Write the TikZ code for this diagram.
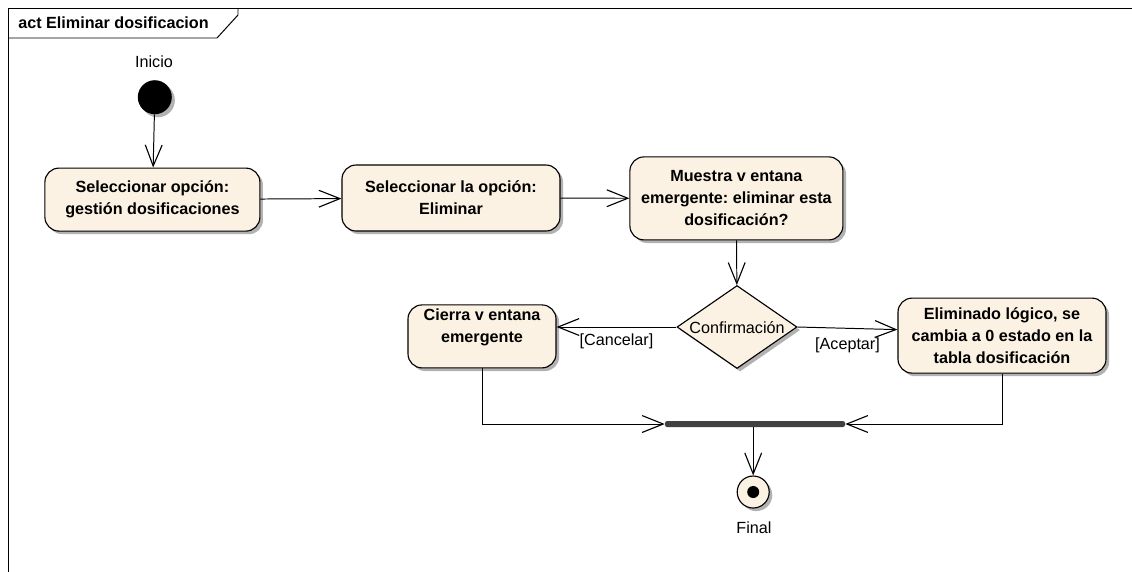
\documentclass[tikz,border=0pt]{standalone}
\usepackage{fontspec}
\setmainfont{Liberation Sans}
\usepackage{xcolor}
\usepackage{tikz}
\usetikzlibrary{positioning, arrows.meta, shadows, shapes.geometric, calc}

\definecolor{actfill}{RGB}{251,242,227}
\definecolor{barfill}{RGB}{64,64,64}

\frenchspacing

\begin{document}
\begin{tikzpicture}[
  font=\fontsize{11.5}{15.6}\selectfont,
  shade/.style={drop shadow={shadow xshift=2.2pt, shadow yshift=-2.2pt, fill=black!30, opacity=1}},
  action/.style={draw, line width=0.8pt, fill=actfill, rounded corners=10pt, align=center, font=\fontsize{11.5}{15.6}\selectfont\bfseries, inner sep=2pt, shade},
  decision/.style={draw, line width=0.8pt, fill=actfill, diamond, aspect=1.45, inner sep=0pt, shade},
  flow/.style={line width=0.7pt, -{Straight Barb[length=15pt, width=12pt, line width=0.8pt]}}
]
\useasboundingbox (0,0) rectangle (28.3,-14.275);

% frame with the diagram tab
\draw [line width=0.7pt] (0.2,-14.3) |- (28.4,-0.2);
\draw [line width=0.7pt] (0.2,-0.95) -- (5.425,-0.95) -- (5.95,-0.375) -- (5.95,-0.2);
\node [anchor=west, inner sep=0pt, font=\fontsize{11.5}{15.6}\selectfont\bfseries] (title) at (0.45,-0.575) {act Eliminar dosificacion};

% start
\node [circle, fill=black, minimum size=0.85cm, inner sep=0pt, shade] (init) at (3.87,-2.43) {};
\node (inicio) at (3.85,-1.55) {Inicio};

% actions
\node [action, minimum width=5.375cm, minimum height=1.575cm] (opcion) at (3.81,-4.99) {Seleccionar opción:\\gestión dosificaciones};
\node [action, minimum width=5.45cm, minimum height=1.65cm] (eliminar) at (11.275,-4.95) {Seleccionar la opción:\\Eliminar};
\node [action, minimum width=5.325cm, minimum height=2.075cm] (ventana) at (18.41,-4.96) {Muestra v entana\\emergente: eliminar esta\\dosificación?};

% decision
\node [decision, minimum width=3cm, minimum height=2.075cm] (confirm) at (18.425,-8.175) {};
\node (conftext) at (18.425,-8.2) {Confirmación};

\node [action, minimum width=3.7cm, minimum height=1.575cm] (cierra) at (12.05,-8.41) {Cierra v entana\\emergente\\\mbox{}};
\node [action, minimum width=5.2cm, minimum height=1.875cm] (logico) at (25.05,-8.39) {Eliminado lógico, se\\cambia a 0 estado en la\\tabla dosificación};

% join bar and end
\node [rectangle, fill=barfill, rounded corners=1.5pt, minimum width=4.5cm, minimum height=0.15cm, inner sep=0pt] (join) at (18.875,-10.6) {};
\node [circle, draw, line width=0.8pt, fill=actfill, minimum size=0.8cm, inner sep=0pt, shade] (fin) at (18.83,-12.3) {};
\fill (fin) circle (0.15);
\node (final) at (18.85,-13.2) {Final};

% flows
\draw [flow] (init) -- (opcion);
\draw [flow] (opcion) -- (eliminar);
\draw [flow] (eliminar) -- (ventana);
\draw [flow] (ventana) -- (confirm);
\draw [flow] (confirm.west) -- node [below, pos=0.5, yshift=-1pt] {[Cancelar]} (confirm.west -| cierra.east);
\draw [flow] (confirm.east) -- node [below, pos=0.5, yshift=-3pt] {[Aceptar]} ($(logico.west)+(0,0.15)$);
\draw [flow] (cierra.south) |- (join.west);
\draw [flow] (logico.south) |- (join.east);
\draw [flow] (join.south -| fin) -- (fin);

\end{tikzpicture}
\end{document}
